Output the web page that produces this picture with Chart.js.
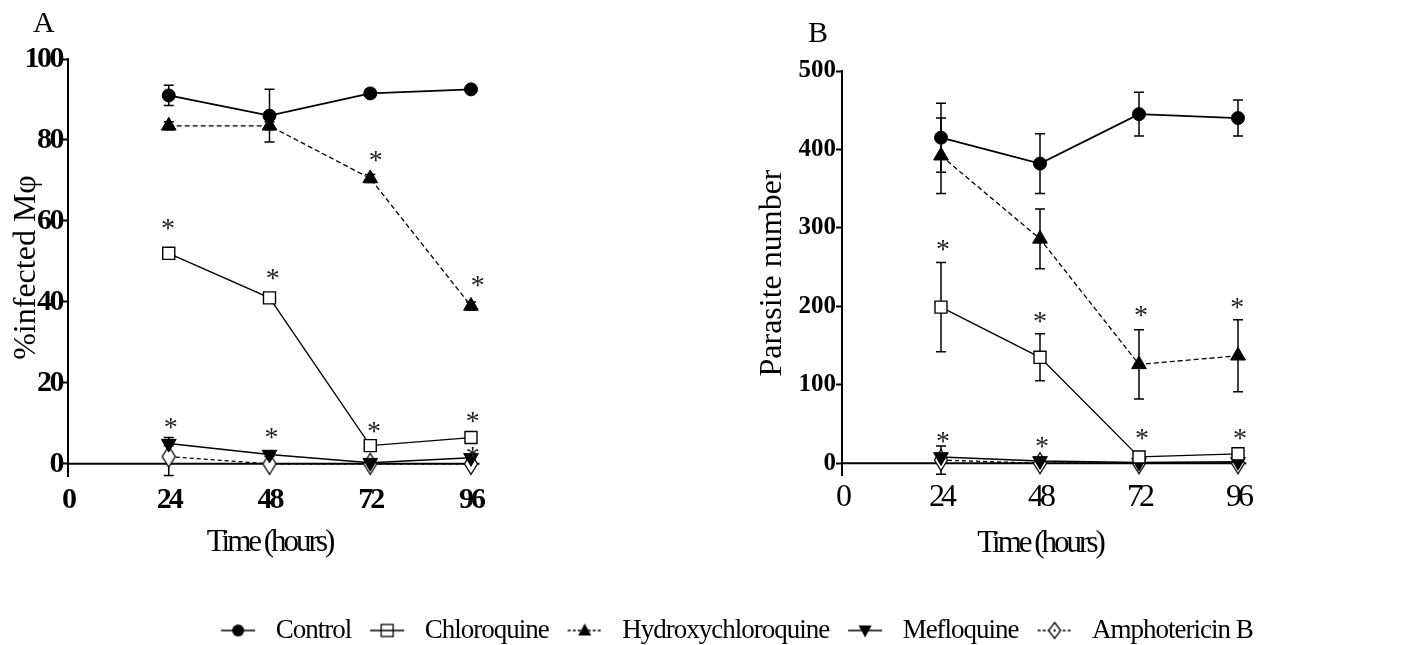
<!DOCTYPE html>
<html>
<head>
<meta charset="utf-8">
<title>Infected macrophages and parasite number</title>
<script src="https://cdn.jsdelivr.net/npm/chart.js"></script>
<style>
  html, body { margin: 0; padding: 0; background: #fff; overflow: hidden; }
  #wrap { position: relative; width: 1411px; height: 645px; overflow: hidden; }
  canvas { position: absolute; }
  #chartA { left: 0; top: 0; }
  #chartB { left: 705px; top: 0; }
  #legendBox { left: 0; top: 599px; }
</style>
</head>
<body>
<div id="wrap">
  <canvas id="chartA" width="700" height="590"></canvas>
  <canvas id="chartB" width="706" height="590"></canvas>
  <canvas id="legendBox" width="1411" height="140"></canvas>
</div>
<script>
const hours = [24, 48, 72, 96];
const xTicks = [0, 24, 48, 72, 96];
const seriesNames = ['Control', 'Chloroquine', 'Hydroxychloroquine', 'Mefloquine', 'Amphotericin B'];

// Panel A - % infected macrophages (mean, SD)
const yTicksA = [0, 20, 40, 60, 80, 100];
const controlA = [91, 86, 91.5, 92.5];
const controlErrA = [2.5, 6.5, 1, 0.8];
const chloroA = [52, 41, 4.5, 6.5];
const chloroErrA = [1, 1, 1, 1];
const hydroxyA = [83.5, 83.5, 70.5, 39];
const hydroxyErrA = [1, 1, 1, 1];
const mefloA = [5, 2.3, 0.3, 1.5];
const mefloErrA = [0.5, 0.5, 0.3, 0.5];
const amphoA = [1.8, 0, 0, 0];
const amphoErrA = [4.7, 0, 0, 0];
// significance marks (x, y) of panel A
const starsA = [[23.8, 59], [48.8, 46.7], [73.3, 76], [97.6, 45], [24.5, 10], [48.5, 7.5], [72.9, 9], [96.4, 11.5], [96.4, 2.7]];

// Panel B - parasite number (mean, SD)
const yTicksB = [0, 100, 200, 300, 400, 500];
const controlB = [415, 382, 445, 440];
const controlErrB = [44, 38, 28, 23];
const chloroB = [199, 135, 8, 12];
const chloroErrB = [57, 30, 3, 3];
const hydroxyB = [392, 286, 126, 137];
const hydroxyErrB = [48, 38, 44, 46];
const mefloB = [8, 3, 1, 2];
const mefloErrB = [1, 1, 1, 1];
const amphoB = [4, 0, 0, 0];
const amphoErrB = [18, 0, 0, 0];
const starsB = [[24.5, 278], [48, 186], [72.5, 193], [95.8, 204], [24.5, 33], [48.5, 27], [72.7, 36], [96.5, 36]];

Chart.defaults.font.family = "'Liberation Serif', 'Times New Roman', serif";
Chart.defaults.color = '#000';

function pts(vals) {
  return hours.map((h, i) => ({x: h, y: vals[i]}));
}

// tall open diamond used for Amphotericin B
function diamondMarker() {
  const c = document.createElement('canvas');
  c.width = 16; c.height = 24;
  const g = c.getContext('2d');
  g.beginPath();
  g.moveTo(8, 1.5); g.lineTo(14.5, 12); g.lineTo(8, 22.5); g.lineTo(1.5, 12); g.closePath();
  g.fillStyle = '#fff'; g.fill();
  g.lineWidth = 1.3; g.strokeStyle = '#000'; g.stroke();
  return c;
}
const diamondImg = diamondMarker();

// little line + marker pictures for the legend
function legendIcon(kind) {
  const c = document.createElement('canvas');
  c.width = 42; c.height = 24;
  const g = c.getContext('2d');
  const cx = 18, cy = 12;
  g.strokeStyle = '#000'; g.fillStyle = '#000'; g.lineWidth = 1.6;
  const line = (dash) => {
    g.save(); g.setLineDash(dash); g.beginPath(); g.moveTo(1, cy); g.lineTo(35, cy); g.stroke(); g.restore();
  };
  if (kind === 0) {
    line([]);
    g.beginPath(); g.arc(cx, cy, 6, 0, Math.PI * 2); g.fill();
  } else if (kind === 1) {
    g.fillStyle = '#fff'; g.fillRect(cx - 6, cy - 6, 12, 12);
    g.lineWidth = 1.3; g.strokeRect(cx - 6, cy - 6, 12, 12);
    g.lineWidth = 1.6; line([]);
  } else if (kind === 2) {
    line([3, 2]);
    g.beginPath(); g.moveTo(cx, cy - 7); g.lineTo(cx + 6.5, cy + 5); g.lineTo(cx - 6.5, cy + 5); g.closePath(); g.fill();
  } else if (kind === 3) {
    line([]);
    g.beginPath(); g.moveTo(cx, cy + 7); g.lineTo(cx + 6.5, cy - 5); g.lineTo(cx - 6.5, cy - 5); g.closePath(); g.fill();
  } else {
    line([3, 2]);
    g.beginPath(); g.moveTo(cx, cy - 8); g.lineTo(cx + 6, cy); g.lineTo(cx, cy + 8); g.lineTo(cx - 6, cy); g.closePath();
    g.fillStyle = '#fff'; g.fill(); g.lineWidth = 1.3; g.stroke();
    g.fillStyle = '#000'; g.fillRect(cx - 1, cy - 1, 2, 2);
  }
  return c;
}

function makeDatasets(vals, errs) {
  const base = {borderColor: '#000', clip: false, pointBorderColor: '#000', tension: 0};
  return [
    Object.assign({}, base, {label: seriesNames[0], data: pts(vals[0]), errors: errs[0], borderWidth: 1.7,
      pointStyle: 'circle', pointRadius: 6.5, pointBackgroundColor: '#000', pointBorderWidth: 1}),
    Object.assign({}, base, {label: seriesNames[1], data: pts(vals[1]), errors: errs[1], borderWidth: 1.3,
      pointStyle: 'rect', pointRadius: 8.5, pointBackgroundColor: '#fff', pointBorderWidth: 1.4}),
    Object.assign({}, base, {label: seriesNames[2], data: pts(vals[2]), errors: errs[2], borderWidth: 1.3,
      borderDash: [5, 3], pointStyle: 'triangle', pointRadius: 8.5, pointBackgroundColor: '#000', pointBorderWidth: 1}),
    Object.assign({}, base, {label: seriesNames[3], data: pts(vals[3]), errors: errs[3], borderWidth: 1.5,
      pointStyle: 'triangle', pointRotation: 180, pointRadius: 8.5, pointBackgroundColor: '#000', pointBorderWidth: 1}),
    Object.assign({}, base, {label: seriesNames[4], data: pts(vals[4]), errors: errs[4], borderWidth: 1.3,
      borderDash: [4, 3], pointStyle: diamondImg, pointRadius: 8})
  ];
}

// error bars with caps, drawn under the markers
const errorBars = {
  id: 'errorBars',
  beforeDatasetsDraw(chart) {
    const {ctx, scales: {y}} = chart;
    ctx.save();
    ctx.strokeStyle = '#000';
    ctx.lineWidth = 1.5;
    chart.data.datasets.forEach((ds, i) => {
      if (!ds.errors) return;
      chart.getDatasetMeta(i).data.forEach((pt, j) => {
        const e = ds.errors[j];
        if (!e) return;
        const v = ds.data[j].y;
        const top = y.getPixelForValue(v + e);
        const bot = y.getPixelForValue(v - e);
        ctx.beginPath();
        ctx.moveTo(pt.x, top); ctx.lineTo(pt.x, bot);
        ctx.moveTo(pt.x - 5, top); ctx.lineTo(pt.x + 5, top);
        ctx.moveTo(pt.x - 5, bot); ctx.lineTo(pt.x + 5, bot);
        ctx.stroke();
      });
    });
    ctx.restore();
  }
};

// x axis sits at y = 0, not at the bottom of the plot area
const zeroLine = {
  id: 'zeroLine',
  beforeDatasetsDraw(chart, args, opts) {
    const {ctx, scales: {x, y}} = chart;
    const py = y.getPixelForValue(0);
    ctx.save();
    ctx.strokeStyle = '#000';
    ctx.lineWidth = 2;
    ctx.beginPath();
    ctx.moveTo(x.left, py);
    ctx.lineTo(x.getPixelForValue(opts.end), py);
    ctx.stroke();
    ctx.restore();
  }
};

const stars = {
  id: 'stars',
  afterDatasetsDraw(chart, args, opts) {
    const {ctx, scales: {x, y}} = chart;
    ctx.save();
    ctx.font = "28px 'Liberation Serif'";
    ctx.fillStyle = '#222';
    ctx.textAlign = 'center';
    ctx.textBaseline = 'alphabetic';
    const m = ctx.measureText('*');
    const shift = (m.actualBoundingBoxAscent - m.actualBoundingBoxDescent) / 2;
    opts.points.forEach(p => {
      ctx.fillText('*', x.getPixelForValue(p[0]), y.getPixelForValue(p[1]) + shift);
    });
    ctx.restore();
  }
};

const panelLabel = {
  id: 'panelLabel',
  afterDraw(chart, args, opts) {
    const ctx = chart.ctx;
    ctx.save();
    ctx.font = "30px 'Liberation Serif'";
    ctx.fillStyle = '#000';
    ctx.textAlign = 'left';
    ctx.textBaseline = 'alphabetic';
    ctx.fillText(opts.text, opts.x, opts.y);
    ctx.restore();
  }
};

// the figure uses a narrow serif face, squeeze tick labels and titles per axis
const letterSpacing = {
  id: 'letterSpacing',
  afterUpdate(chart, args, opts) {
    Object.values(chart.scales).forEach(scale => {
      if (scale._spacingDone) return;
      const sp = opts[scale.id] || {};
      [['drawLabels', sp.ticks], ['drawTitle', sp.title]].forEach(([fn, val]) => {
        const orig = scale[fn];
        scale[fn] = function (...a) {
          this.ctx.save();
          this.ctx.letterSpacing = (val || 0) + 'px';
          orig.apply(this, a);
          this.ctx.restore();
        };
      });
      scale._spacingDone = true;
    });
  }
};

function makeChart(id, cfg) {
  return new Chart(document.getElementById(id), {
    type: 'line',
    data: {datasets: makeDatasets(cfg.vals, cfg.errs)},
    options: {
      responsive: false,
      animation: false,
      layout: {padding: {top: cfg.top, left: 0, right: cfg.right, bottom: 0}},
      scales: {
        x: {
          type: 'linear',
          min: 0,
          max: 96,
          afterBuildTicks: s => { s.ticks = xTicks.map(v => ({value: v})); },
          afterFit: s => { s.height = cfg.xHeight; },
          grid: {display: false, drawTicks: false},
          border: {display: false},
          ticks: {font: cfg.xTickFont, padding: cfg.xTickPad, maxRotation: 0, autoSkip: false, color: '#000'},
          title: {display: true, text: 'Time (hours)', font: {size: 31}, color: '#000', padding: {top: 0, bottom: cfg.xTitlePad}}
        },
        y: {
          type: 'linear',
          min: cfg.yMin,
          max: cfg.yMax,
          afterBuildTicks: s => { s.ticks = cfg.yTicks.map(v => ({value: v})); },
          afterFit: s => { s.width = cfg.yWidth; },
          grid: {display: true, drawOnChartArea: false, drawTicks: true, tickLength: 6, tickColor: '#000', tickWidth: 2},
          border: {display: true, color: '#000', width: 2},
          ticks: {font: cfg.yTickFont, padding: 0, color: '#000'},
          title: {display: true, text: cfg.yTitle, font: {size: 32}, color: '#000', padding: {top: cfg.yTitlePad, bottom: 0}}
        }
      },
      plugins: {
        legend: {display: false},
        tooltip: {enabled: false},
        zeroLine: {end: 98},
        stars: {points: cfg.stars},
        panelLabel: cfg.label,
        letterSpacing: cfg.spacing
      }
    },
    plugins: [errorBars, zeroLine, stars, panelLabel, letterSpacing]
  });
}

makeChart('chartA', {
  vals: [controlA, chloroA, hydroxyA, mefloA, amphoA],
  errs: [controlErrA, chloroErrA, hydroxyErrA, mefloErrA, amphoErrA],
  stars: starsA,
  top: 59, right: 229, xHeight: 114, yWidth: 68,
  yMin: -3, yMax: 100, yTicks: yTicksA,
  xTickFont: {size: 30, weight: 'bold'}, xTickPad: 6, xTitlePad: 29,
  yTickFont: {size: 30, weight: 'bold'}, yTitle: '%infected Mφ', yTitlePad: 7,
  label: {text: 'A', x: 33, y: 32},
  spacing: {x: {ticks: -3, title: -3}, y: {ticks: -2.5, title: 0}}
});

makeChart('chartB', {
  vals: [controlB, chloroB, hydroxyB, mefloB, amphoB],
  errs: [controlErrB, chloroErrB, hydroxyErrB, mefloErrB, amphoErrB],
  stars: starsB,
  top: 71, right: 173, xHeight: 115, yWidth: 137,
  yMin: -15, yMax: 500, yTicks: yTicksB,
  xTickFont: {size: 32}, xTickPad: 3, xTitlePad: 28,
  yTickFont: {size: 25, weight: 'bold'}, yTitle: 'Parasite number', yTitlePad: 48,
  label: {text: 'B', x: 103, y: 42},
  spacing: {x: {ticks: -4, title: -3}, y: {ticks: 0, title: 0}}
});

// shared legend under both panels
const legendSpacing = {
  id: 'legendSpacing',
  beforeLayout(chart) { chart.ctx.letterSpacing = '-1px'; },
  beforeDraw(chart) { chart.ctx.letterSpacing = '-1px'; }
};

new Chart(document.getElementById('legendBox'), {
  type: 'line',
  data: {
    datasets: seriesNames.map((n, i) => ({label: n, data: [], borderColor: '#000', pointStyle: legendIcon(i)}))
  },
  options: {
    responsive: false,
    animation: false,
    layout: {padding: {left: 62, top: 0, right: 0, bottom: 0}},
    scales: {x: {display: false}, y: {display: false}},
    plugins: {
      tooltip: {enabled: false},
      legend: {
        display: true,
        position: 'top',
        onClick: null,
        labels: {usePointStyle: true, pointStyleWidth: 42, padding: 18, color: '#000', font: {size: 27}}
      }
    }
  },
  plugins: [legendSpacing]
});
</script>
</body>
</html>
